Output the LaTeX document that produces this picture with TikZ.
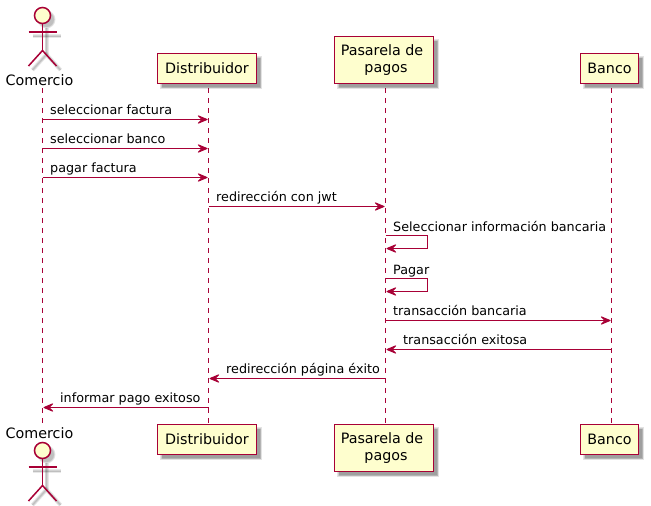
\documentclass[tikz,border=0pt]{standalone}
\usepackage{fontspec}
\setmainfont{DejaVu Sans}
\usetikzlibrary{arrows.meta}
\definecolor{pline}{HTML}{A80036}
\definecolor{pfill}{HTML}{FEFECE}
\tikzset{
  lifeline/.style={draw=pline,line width=1pt,dash pattern=on 5pt off 5pt},
  msg/.style={draw=pline,line width=1pt,shorten >=1pt,-{Stealth[length=12pt,width=10pt,inset=5pt,round=false]}},
  msglabel/.style={anchor=base west,inner sep=0pt,font=\fontsize{12.75}{15}\selectfont,text=black},
  partbox/.style={draw=pline,fill=pfill,line width=1.8pt,inner sep=0pt,align=center,font=\fontsize{14.3}{16.3}\selectfont,text=black},
  actorlabel/.style={inner sep=0pt,anchor=base,font=\fontsize{14.3}{16}\selectfont,text=black},
  actorline/.style={draw=pline,line width=1.5pt},
  softshadow/.style={fill=black,fill opacity=.11,draw=none},
  actorshadow/.style={draw=black,draw opacity=.09}
}
\newcommand{\boxshadow}[4]{%
  \foreach \d in {-1,0,1,2}{
    \fill[softshadow] (#1+4-\d*.9,#2+4-\d*.9) rectangle (#3+4+\d*.9,#4+4+\d*.9);
  }}
\newcommand{\actorshape}[2]{%
  % #1 body x, #2 head centre y
  \begin{scope}[shift={(#1+4,#2+4)}]
    \foreach \w in {1,2.5,4}{
      \draw[actorshadow,line width=\w pt] (0,8) -- (0,35);
      \draw[actorshadow,line width=\w pt] (-14,16.5) -- (14,16.5);
      \draw[actorshadow,line width=\w pt] (-14,50.5) -- (0,35) -- (14,50.5);
      \fill[black,fill opacity=.09] (0,0) circle (7+\w/2);
    }
  \end{scope}
  \begin{scope}[shift={(#1,#2)}]
    \draw[actorline] (0,8) -- (0,35);
    \draw[actorline] (-14,16.5) -- (14,16.5);
    \draw[actorline] (-14,50.5) -- (0,35) -- (14,50.5);
    \draw[actorline,fill=pfill] (0,0) circle (8);
  \end{scope}}
\begin{document}
\begin{tikzpicture}[x=1pt,y=-1pt]
\useasboundingbox (0,0) rectangle (651,506);
\fill[white] (0,0) rectangle (651,506);
% lifeline reference coordinates
\coordinate (LC) at (42.5,88);
\coordinate (LD) at (208.5,88);
\coordinate (LP) at (385.5,88);
\coordinate (LB) at (611.5,88);
\coordinate (LCe) at (42.5,424);
\coordinate (LDe) at (208.5,424);
\coordinate (LPe) at (385.5,424);
\coordinate (LBe) at (611.5,424);
% lifelines
\draw[lifeline] (LC) -- (LCe);
\draw[lifeline] (LD) -- (LDe);
\draw[lifeline] (LP) -- (LPe);
\draw[lifeline] (LB) -- (LBe);
% shadows
\boxshadow{157.5}{53.5}{256.5}{83.5}
\boxshadow{334.5}{36.5}{433.5}{83.5}
\boxshadow{580.5}{53.5}{638.5}{83.5}
\boxshadow{157.5}{424.5}{256.5}{454.5}
\boxshadow{334.5}{424.5}{433.5}{471.5}
\boxshadow{580.5}{424.5}{638.5}{454.5}
% actors
\actorshape{42.5}{15.5}
\actorshape{42.5}{450.5}
\node[actorlabel] (comT) at (39.5,85) {Comercio};
\node[actorlabel] (comB) at (39.5,438) {Comercio};
% participants
\node[partbox,minimum width=99pt,minimum height=30pt] (distT) at (207,68.5) {Distribuidor};
\node[partbox,minimum width=99pt,minimum height=47pt] (pasT) at (384,60) {Pasarela de\hspace*{4pt}\\\hspace*{4pt}pagos};
\node[partbox,minimum width=58pt,minimum height=30pt] (banT) at (609.5,68.5) {Banco};
\node[partbox,minimum width=99pt,minimum height=30pt] (distB) at (207,439.5) {Distribuidor};
\node[partbox,minimum width=99pt,minimum height=47pt] (pasB) at (384,448) {Pasarela de\hspace*{4pt}\\\hspace*{4pt}pagos};
\node[partbox,minimum width=58pt,minimum height=30pt] (banB) at (609.5,439.5) {Banco};
% messages
\draw[msg] (LC |- 0,119.5) -- (LD |- 0,119.5);
\node[msglabel] (t1) at (50,114.5) {seleccionar factura};
\draw[msg] (LC |- 0,148.5) -- (LD |- 0,148.5);
\node[msglabel] (t2) at (50,143.5) {seleccionar banco};
\draw[msg] (LC |- 0,177.5) -- (LD |- 0,177.5);
\node[msglabel] (t3) at (50,172.5) {pagar factura};
\draw[msg] (LD |- 0,206.5) -- (LP |- 0,206.5);
\node[msglabel] (t4) at (216,201.5) {redirección con jwt};
\draw[msg] (LP |- 0,235.5) -| (427.5,248.5) -- (LP |- 0,248.5);
\node[msglabel] (t5) at (393,231) {Seleccionar información bancaria};
\draw[msg] (LP |- 0,278.5) -| (427.5,291.5) -- (LP |- 0,291.5);
\node[msglabel] (t6) at (393,274) {Pagar};
\draw[msg] (LP |- 0,320.5) -- (LB |- 0,320.5);
\node[msglabel] (t7) at (393,315.5) {transacción bancaria};
\draw[msg] (LB |- 0,349.5) -- (LP |- 0,349.5);
\node[msglabel] (t8) at (403,344.5) {transacción exitosa};
\draw[msg] (LP |- 0,378.5) -- (LD |- 0,378.5);
\node[msglabel] (t9) at (226,373.5) {redirección página éxito};
\draw[msg] (LD |- 0,407.5) -- (LC |- 0,407.5);
\node[msglabel] (t10) at (60,402.5) {informar pago exitoso};
\end{tikzpicture}
\end{document}
